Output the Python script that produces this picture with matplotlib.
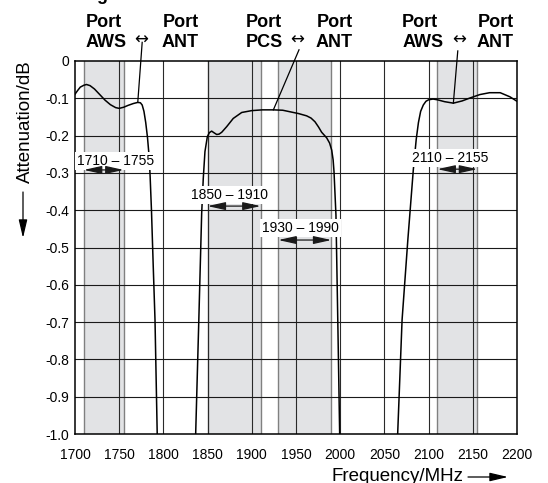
import matplotlib
matplotlib.use("Agg")
import matplotlib.pyplot as plt
from matplotlib.transforms import blended_transform_factory

plt.rcParams['font.family'] = ['Liberation Sans', 'DejaVu Sans']

# curve: left AWS port
freq_aws1 = [1700, 1703, 1706, 1710, 1713, 1717, 1722, 1728, 1734, 1740, 1746, 1750,
             1755, 1760, 1766, 1771, 1774, 1776, 1778, 1780, 1782, 1784, 1785,
             1786.5, 1788.5, 1790.5, 1793]
att_aws1 = [-0.089, -0.079, -0.070, -0.065, -0.063, -0.066, -0.075, -0.090, -0.105,
            -0.117, -0.125, -0.127, -0.124, -0.119, -0.114, -0.111, -0.112, -0.118,
            -0.135, -0.165, -0.205, -0.26, -0.31, -0.40, -0.55, -0.694, -1.0]

# PCS port
freq_pcs = [1836.5, 1840, 1843.3, 1845.1, 1847, 1849.7, 1852, 1854.6, 1857, 1860.3,
            1863, 1866, 1871.6, 1879, 1888.6, 1900, 1912, 1924.4, 1935, 1943, 1953,
            1962, 1967, 1971.5, 1975.5, 1979, 1984.7, 1988, 1990.4, 1992, 1993,
            1995.2, 1997.3, 1999.4]
att_pcs = [-1.0, -0.70, -0.408, -0.315, -0.243, -0.203, -0.192, -0.188, -0.192, -0.197,
           -0.196, -0.191, -0.176, -0.154, -0.138, -0.133, -0.131, -0.131, -0.132,
           -0.136, -0.141, -0.147, -0.153, -0.163, -0.177, -0.191, -0.206, -0.22,
           -0.239, -0.265, -0.297, -0.413, -0.70, -1.0]

# right AWS port
freq_aws2 = [2065, 2070, 2076.5, 2082.7, 2086, 2088.5, 2091, 2094, 2097, 2100, 2105,
             2110, 2118, 2128, 2138, 2147, 2158, 2169, 2181, 2192, 2200]
att_aws2 = [-1.0, -0.694, -0.48, -0.292, -0.21, -0.165, -0.135, -0.118, -0.108, -0.104,
            -0.102, -0.104, -0.109, -0.113, -0.107, -0.099, -0.09, -0.085, -0.085,
            -0.096, -0.108]

bands = [(1710, 1755), (1850, 1910), (1930, 1990), (2110, 2155)]
band_labels = ['1710 – 1755', '1850 – 1910', '1930 – 1990', '2110 – 2155']
label_pos = [(1746, -0.268), (1875, -0.359), (1955, -0.448), (2124, -0.26)]
arrow_y = [-0.292, -0.389, -0.48, -0.29]

x_ticks = [1700, 1750, 1800, 1850, 1900, 1950, 2000, 2050, 2100, 2150, 2200]
y_ticks = [0, -0.1, -0.2, -0.3, -0.4, -0.5, -0.6, -0.7, -0.8, -0.9, -1.0]
y_ticklabels = ['0', '-0.1', '-0.2', '-0.3', '-0.4', '-0.5', '-0.6', '-0.7', '-0.8',
                '-0.9', '-1.0']

W, H = 548, 483
fig = plt.figure(figsize=(W / 100, H / 100), dpi=100)
ax = fig.add_axes([75 / W, 1 - 434 / H, (517 - 75) / W, (434 - 61) / H])
ax.set_xlim(1700, 2200)
ax.set_ylim(-1.0, 0)

# shaded bands and their edges
for lo, hi in bands:
    ax.axvspan(lo, hi, color='#e2e3e5', zorder=0, lw=0)
    for e in (lo, hi):
        ax.axvline(e, color='#808080', lw=1.0, zorder=1)

for x in x_ticks[1:-1]:
    ax.axvline(x, color='#2a2a2a', lw=0.8, zorder=1)
for y in y_ticks[1:-1]:
    ax.axhline(y, color='#1a1a1a', lw=0.8, zorder=1)

ax.plot(freq_aws1, att_aws1, color='black', lw=1.1, zorder=3)
ax.plot(freq_pcs, att_pcs, color='black', lw=1.1, zorder=3)
ax.plot(freq_aws2, att_aws2, color='black', lw=1.1, zorder=3)

# pointer lines from curves to the headings
ax.plot([1771, 1776], [-0.111, 0.05], color='black', lw=0.9, clip_on=False, zorder=3)
ax.plot([1924.4, 1953.4], [-0.131, 0.03], color='black', lw=0.9, clip_on=False, zorder=3)
ax.plot([2128, 2133], [-0.113, 0.027], color='black', lw=0.9, clip_on=False, zorder=3)

for (lo, hi), txt, (lx, ly), ay in zip(bands, band_labels, label_pos, arrow_y):
    ax.text(lx, ly, txt, fontsize=10, ha='center', va='center', zorder=5,
            bbox=dict(facecolor='white', edgecolor='none', pad=1.5))
    ax.annotate('', xy=(lo, ay), xytext=(hi, ay), zorder=5,
                arrowprops=dict(arrowstyle='<|-|>,head_length=0.9,head_width=0.2',
                                mutation_scale=12, color='#1a1a1a', lw=0.9,
                                shrinkA=0, shrinkB=0))

ax.set_xticks(x_ticks)
ax.set_yticks(y_ticks)
ax.set_yticklabels(y_ticklabels)
ax.tick_params(length=0, labelsize=10)
ax.tick_params(axis='x', pad=10)
ax.tick_params(axis='y', pad=4)
for s in ax.spines.values():
    s.set_linewidth(1.1)

# headings above the plot
tr = blended_transform_factory(ax.transData, fig.transFigure)
groups = [(1712.4, 1840, 1775, 'AWS'), (1893.4, 2014, 1951, 'PCS'), (2070, 2196.5, 2135, 'AWS')]
for left, right, mid, name in groups:
    fig.text(left, 1 - 27 / H, 'Port', transform=tr, ha='left', va='baseline',
             fontsize=13, fontweight='bold')
    fig.text(right, 1 - 27 / H, 'Port', transform=tr, ha='right', va='baseline',
             fontsize=13, fontweight='bold')
    fig.text(left, 1 - 47 / H, name, transform=tr, ha='left', va='baseline',
             fontsize=13, fontweight='bold')
    fig.text(mid, 1 - 40 / H, '↔', transform=tr, ha='center', va='center',
             fontsize=12, family='DejaVu Sans')
    fig.text(right, 1 - 47 / H, 'ANT', transform=tr, ha='right', va='baseline',
             fontsize=13, fontweight='bold')

# figure caption, mostly above the top edge as in the source
fig.text(81 / W, 1 + 0.5 / H, 'Fig. 4', ha='left', va='baseline', fontsize=13,
         fontweight='bold')

# axis labels with arrows
fig.text(25 / W, 1 - 183 / H, 'Attenuation/dB', rotation=90, ha='center',
         va='bottom', fontsize=13.5)
fig.text(463 / W, 1 - 481 / H, 'Frequency/MHz', ha='right', va='baseline',
         fontsize=13.5)
ax.annotate('', xy=(23 / W, 1 - 238 / H), xytext=(23 / W, 1 - 192 / H),
            xycoords='figure fraction', textcoords='figure fraction',
            arrowprops=dict(arrowstyle='-|>,head_length=0.85,head_width=0.2',
                            mutation_scale=13, color='black', lw=0.9,
                            shrinkA=0, shrinkB=0))
ax.annotate('', xy=(508 / W, 1 - 477 / H), xytext=(468 / W, 1 - 477 / H),
            xycoords='figure fraction', textcoords='figure fraction',
            arrowprops=dict(arrowstyle='-|>,head_length=0.85,head_width=0.2',
                            mutation_scale=13, color='black', lw=0.9,
                            shrinkA=0, shrinkB=0))

fig.savefig('out.png', dpi=100)
